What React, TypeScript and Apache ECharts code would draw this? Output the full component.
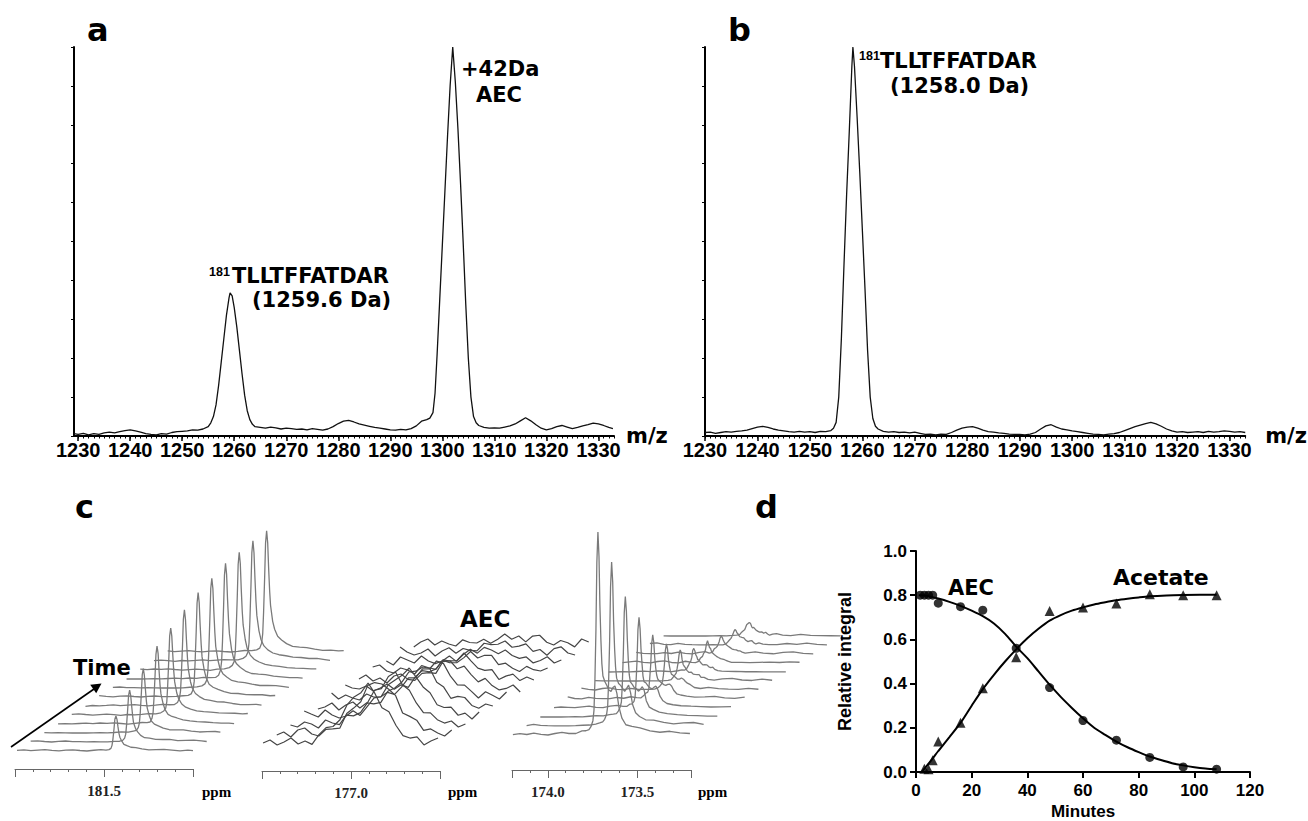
import { useEffect, useRef } from 'react';
import * as echarts from 'echarts';

// ---------------- Panel a / b : MALDI spectra ----------------
const MZ_TICK_LABELS = [1230, 1240, 1250, 1260, 1270, 1280, 1290, 1300, 1310, 1320, 1330];

const SPEC_A_MZ = [1229.2, 1230, 1231, 1232, 1233, 1234, 1235, 1236, 1237, 1238, 1239, 1240, 1241, 1242, 1243, 1244, 1245, 1246, 1247, 1248, 1249, 1250, 1251, 1252, 1253, 1254, 1255, 1255.5, 1256, 1256.5, 1257, 1257.5, 1258, 1258.5, 1259, 1259.2, 1259.6, 1260, 1260.5, 1261, 1261.5, 1262, 1262.5, 1263, 1263.5, 1264, 1265, 1266, 1267, 1268, 1269, 1270, 1271, 1272, 1273, 1274, 1275, 1276, 1277, 1278, 1279, 1280, 1281, 1282, 1283, 1284, 1285, 1286, 1287, 1288, 1289, 1290, 1291, 1292, 1293, 1294, 1295, 1296, 1297, 1297.6, 1298.2, 1298.6, 1299, 1299.5, 1300, 1300.5, 1301, 1301.5, 1302, 1302.5, 1303, 1303.5, 1304, 1304.5, 1305, 1305.5, 1306, 1306.5, 1307, 1308, 1309, 1310, 1311, 1312, 1313, 1314, 1315, 1316, 1317, 1318, 1319, 1320, 1321, 1322, 1323, 1324, 1325, 1326, 1327, 1328, 1329, 1330, 1331, 1332, 1332.8];
const SPEC_A_INT = [0.6, 0.4, 0.7, 0.3, 0.6, 0.4, 0.8, 1.0, 0.8, 1.1, 1.4, 1.6, 1.3, 1.0, 0.6, 0.4, 0.3, 0.6, 0.5, 0.9, 1.1, 1.2, 1.3, 1.6, 1.5, 1.8, 2.4, 3.4, 5, 8, 13, 19, 25, 31, 35.5, 36.8, 36, 33, 28, 22, 16, 10.5, 6.5, 4.2, 3, 2.4, 2.2, 2.0, 2.3, 2.1, 1.8, 2.0, 1.9, 1.7, 1.8, 1.6, 1.9, 1.7, 1.5, 1.8, 2.4, 3.2, 3.8, 4.0, 3.6, 3.1, 2.8, 2.5, 2.2, 2.0, 1.8, 1.6, 1.5, 1.7, 1.6, 1.9, 2.6, 3.8, 4.2, 4.6, 6, 11, 21, 35, 49, 63, 77, 90, 100, 91, 79, 65, 50, 34, 20, 10, 5, 3.4, 2.7, 2.2, 2.0, 2.1, 2.0, 2.3, 2.6, 3.1, 3.9, 4.7, 3.9, 2.9, 2.0, 1.6, 1.9, 2.4, 2.7, 2.3, 1.9, 2.2, 2.6, 2.9, 3.3, 3.1, 2.7, 2.2, 1.9];

const SPEC_B_MZ = [1230, 1231, 1232, 1233, 1234, 1235, 1236, 1237, 1238, 1239, 1240, 1241, 1242, 1243, 1244, 1245, 1246, 1247, 1248, 1249, 1250, 1251, 1252, 1253, 1254, 1254.5, 1255, 1255.5, 1256, 1256.5, 1257, 1257.5, 1258, 1258.2, 1258.5, 1259, 1259.5, 1260, 1260.5, 1261, 1261.5, 1262, 1262.5, 1263, 1264, 1265, 1266, 1267, 1268, 1269, 1270, 1271, 1272, 1273, 1274, 1275, 1276, 1277, 1278, 1279, 1280, 1281, 1282, 1283, 1284, 1285, 1286, 1287, 1288, 1289, 1290, 1291, 1292, 1293, 1294, 1295, 1296, 1297, 1298, 1299, 1300, 1301, 1302, 1303, 1304, 1305, 1306, 1307, 1308, 1309, 1310, 1311, 1312, 1313, 1314, 1315, 1316, 1317, 1318, 1319, 1320, 1321, 1322, 1323, 1324, 1325, 1326, 1327, 1328, 1329, 1330, 1331, 1332, 1333];
const SPEC_B_INT = [0.9, 1.0, 0.7, 0.9, 1.1, 1.0, 1.2, 1.3, 1.5, 1.9, 2.3, 2.5, 2.2, 1.8, 1.5, 1.3, 1.1, 1.0, 1.2, 1.0, 1.1, 0.9, 1.2, 1.1, 1.4, 2, 3.5, 10, 25, 44, 62, 78, 95, 100, 95, 82, 68, 53, 38, 22, 10, 4.5, 2.5, 1.8, 1.2, 1.0, 1.1, 0.9, 1.0, 0.8, 1.0, 0.7, 0.4, 0.5, 0.3, 0.5, 0.4, 0.9, 1.5, 2.0, 2.3, 2.4, 2.0, 1.5, 1.1, 1.0, 0.8, 0.7, 0.5, 0.4, 0.4, 0.3, 0.5, 0.9, 1.8, 2.6, 2.9, 2.3, 1.8, 1.6, 1.3, 1.1, 0.9, 0.7, 0.5, 0.4, 0.3, 0.5, 0.6, 0.9, 1.4, 1.9, 2.4, 2.8, 3.2, 3.5, 3.1, 2.5, 1.8, 1.3, 1.0, 1.1, 0.9, 1.0, 1.1, 0.9, 1.2, 1.0, 1.1, 1.3, 1.2, 1.0, 1.1, 0.9];

// ---------------- Panel c : 13C NMR stacked spectra ----------------
// 181.5 ppm region (front trace sampling, peak shape, baseline noise, per-time peak heights)
const C1_PPM = [181.989, 181.95, 181.911, 181.871, 181.832, 181.793, 181.753, 181.714, 181.675, 181.635, 181.596, 181.557, 181.517, 181.489, 181.472, 181.461, 181.455, 181.45, 181.444, 181.439, 181.433, 181.427, 181.422, 181.416, 181.411, 181.399, 181.388, 181.371, 181.349, 181.321, 181.287, 181.248, 181.208, 181.163, 181.118, 181.073, 181.029, 181.0];
const C1_SHAPE = [0, 0, 0, 0, 0, 0, 0, 0, 0, 0, 0, 0.004, 0.008, 0.015, 0.03, 0.07, 0.15, 0.33, 0.62, 0.9, 1, 0.9, 0.7, 0.5, 0.38, 0.25, 0.18, 0.125, 0.09, 0.065, 0.048, 0.037, 0.029, 0.021, 0.016, 0.011, 0.008, 0.006];
const C1_NOISE = [0.6, 1.1, 0.4, 0.9, 1.4, 0.7, 0.2, 0.8, 1.2, 0.5, 0.0, 0.6, 1.0, 0.4, 0.3, 0.2, 0.4, 0.1, 0.0, 0.2, 0.0, 0.1, 0.3, 0.2, 0.5, 0.8, 0.4, 1.0, 0.6, 1.2, 0.5, -0.2, 0.4, 0.9, 0.3, -0.3, 0.5, 0.2];
const C1_HEIGHTS = [35, 51, 64, 77, 87, 96, 104, 110, 115, 117, 120, 121];

// 177.0 ppm region (AEC)
const C2_PPM = [177.494, 177.455, 177.415, 177.376, 177.337, 177.297, 177.258, 177.219, 177.18, 177.14, 177.101, 177.062, 177.022, 176.983, 176.944, 176.904, 176.865, 176.826, 176.787, 176.747, 176.708, 176.669, 176.629, 176.59, 176.551, 176.511];
const C2_SHAPE = [0, 0, 0, 0, 0, 0, 0, 0.03, 0.08, 0.17, 0.3, 0.46, 0.64, 0.82, 0.97, 1, 0.86, 0.66, 0.46, 0.3, 0.17, 0.09, 0.04, 0.02, 0, 0];
const C2_NOISE = [0, 3, -2, 1, 5, -1, 2, -3, 4, 6, 0, -2, 3, 1, -3, 5, 2, -1, 6, 1, -2, 0, 4, -3, 2, 5, -1, 3, 0, -2, 4, 1];
const C2_HEIGHTS = [55, 52, 48, 44, 39, 33, 27, 21, 16, 12, 9, 6];

// 173.7 ppm region (acetate): a sharp line plus a broad base that dominates late traces
const C3_PPM = [174.195, 174.156, 174.117, 174.078, 174.038, 173.999, 173.96, 173.921, 173.882, 173.843, 173.809, 173.787, 173.77, 173.759, 173.748, 173.742, 173.737, 173.731, 173.726, 173.72, 173.714, 173.709, 173.703, 173.698, 173.692, 173.681, 173.67, 173.659, 173.647, 173.636, 173.625, 173.614, 173.603, 173.586, 173.564, 173.53, 173.485, 173.429, 173.374, 173.318, 173.262, 173.206];
const C3_SHAPE = [0, 0, 0, 0, 0, 0, 0, 0.002, 0.004, 0.006, 0.012, 0.018, 0.025, 0.04, 0.07, 0.12, 0.26, 0.52, 0.85, 1, 0.88, 0.64, 0.46, 0.35, 0.29, 0.26, 0.24, 0.22, 0.21, 0.23, 0.24, 0.2, 0.13, 0.08, 0.05, 0.035, 0.025, 0.018, 0.013, 0.01, 0.008, 0.006];
const C3_BROAD = [0, 0, 0, 0, 0, 0, 0, 0, 0, 0, 0, 0, 0.1, 0.3, 0.5, 0.6, 0.7, 0.8, 0.9, 1, 0.93, 0.86, 0.79, 0.72, 0.65, 0.52, 0.4, 0.3, 0.22, 0.15, 0.1, 0.06, 0.03, 0, 0, 0, 0, 0, 0, 0, 0, 0];
const C3_NOISE = [0.3, 1.4, 0.5, 1.9, 0.6, 0.0, 1.5, 2.2, 0.7, 0.3, 1.6, 0.6, 0.3, 0.2, 0.1, 0.2, 0.0, 0.1, 0.0, 0.0, 0.1, 0.0, 0.2, 0.3, 0.1, 0.5, 0.8, 0.4, 1.0, 0.7, 0.3, 1.1, 1.9, 0.6, 0.1, 1.5, 2.1, 0.5, 0.1, 1.7, 0.6, 0.3];
const C3_HEIGHTS = [203, 163, 120, 90, 60, 40, 22, 13, 9, 7, 5, 4];
const C3_BROAD_HEIGHTS = [0, 0, 0, 0, 4, 6, 8, 10, 11, 11, 10, 9];

// ---------------- Panel d : kinetics ----------------
const AEC_T = [1.5, 3, 4.5, 6, 8, 16, 24, 36, 48, 60, 72, 84, 96, 108];
const AEC_Y = [0.80, 0.80, 0.80, 0.80, 0.764, 0.748, 0.732, 0.56, 0.382, 0.233, 0.144, 0.066, 0.023, 0.013];
const ACE_T = [3, 4.5, 6, 8, 16, 24, 36, 48, 60, 72, 84, 96, 108];
const ACE_Y = [0.015, 0.012, 0.053, 0.138, 0.223, 0.379, 0.519, 0.729, 0.744, 0.762, 0.804, 0.80, 0.80];
const AEC_FIT_T = [1, 4, 8, 12, 16, 20, 24, 28, 32, 36, 40, 44, 48, 52, 56, 60, 64, 68, 72, 76, 80, 84, 88, 92, 96, 100, 104, 108];
const AEC_FIT_Y = [0.80, 0.797, 0.785, 0.77, 0.752, 0.73, 0.705, 0.672, 0.625, 0.567, 0.515, 0.455, 0.395, 0.34, 0.29, 0.243, 0.2, 0.168, 0.138, 0.112, 0.09, 0.07, 0.054, 0.04, 0.03, 0.022, 0.016, 0.012];
const ACE_FIT_T = [2, 4, 6, 8, 12, 16, 20, 24, 28, 32, 36, 40, 44, 48, 52, 56, 60, 64, 68, 72, 76, 80, 84, 90, 96, 102, 108];
const ACE_FIT_Y = [0, 0.03, 0.062, 0.095, 0.158, 0.222, 0.3, 0.375, 0.44, 0.5, 0.555, 0.605, 0.648, 0.685, 0.71, 0.73, 0.745, 0.758, 0.768, 0.777, 0.784, 0.79, 0.795, 0.799, 0.801, 0.802, 0.802];

const BLACK = '#000';
const F_SANS = 'DejaVu Sans, Verdana, sans-serif';
const F_ARIAL = 'Liberation Sans, Arial, Helvetica, sans-serif';
const F_SERIF = 'Liberation Serif, Times New Roman, serif';

function buildOption() {
  const grid: any[] = [];
  const xAxis: any[] = [];
  const yAxis: any[] = [];
  const series: any[] = [];
  const addGrid = (g: any) => { grid.push(g); return grid.length - 1; };
  const addX = (a: any) => { xAxis.push(a); return xAxis.length - 1; };
  const addY = (a: any) => { yAxis.push(a); return yAxis.length - 1; };

  // ---- mass spectra ----
  const minorMz: number[] = [];
  for (let m = 1230; m <= 1333; m += 1) minorMz.push(m);
  const msPanel = (left: number, min: number, width: number, nameGap: number, mz: number[], inten: number[]) => {
    const g = addGrid({ left, top: 47, width, height: 389 });
    const x = addX({
      type: 'value', gridIndex: g, position: 'bottom', min, max: 1333,
      axisLine: { show: true, onZero: false, lineStyle: { color: BLACK, width: 2 } },
      axisTick: { show: true, customValues: MZ_TICK_LABELS, length: 5, lineStyle: { color: BLACK, width: 1.5 } },
      axisLabel: {
        show: true, customValues: MZ_TICK_LABELS, margin: 4, color: BLACK, fontSize: 20, fontWeight: 'bold', fontFamily: F_ARIAL,
        formatter: (v: number) => String(Math.round(v)), hideOverlap: false, showMinLabel: true, showMaxLabel: true,
      },
      splitLine: { show: false },
      name: 'm/z', nameLocation: 'end', nameGap,
      nameTextStyle: { color: BLACK, fontSize: 21, fontWeight: 'bold', fontFamily: F_SANS },
    });
    addX({
      type: 'value', gridIndex: g, position: 'bottom', min, max: 1333,
      axisLine: { show: false },
      axisTick: { show: true, customValues: minorMz, length: 2.5, lineStyle: { color: BLACK, width: 1 } },
      axisLabel: { show: false }, splitLine: { show: false },
    });
    const y = addY({
      type: 'value', gridIndex: g, min: 0, max: 100, interval: 10,
      axisLine: { show: true, onZero: false, lineStyle: { color: BLACK, width: 2 } },
      axisTick: { show: true, length: 3, lineStyle: { color: BLACK } },
      axisLabel: { show: false }, splitLine: { show: false },
    });
    series.push({
      type: 'line', xAxisIndex: x, yAxisIndex: y, symbol: 'none', silent: true,
      lineStyle: { color: '#111', width: 1.3 },
      data: mz.map((m, i) => [m, inten[i]]),
    });
  };
  msPanel(74, 1229.2, 540, 12, SPEC_A_MZ, SPEC_A_INT);
  msPanel(705, 1230, 542, 20, SPEC_B_MZ, SPEC_B_INT);

  // ---- stacked NMR ----
  const DX = 13.7;
  const DY = 9;
  const waterfall = (cfg: any) => {
    const n = cfg.noise.length;
    for (let i = cfg.heights.length - 1; i >= 0; i--) {
      const bottomY = cfg.baseY + 7 - i * DY;
      const g = addGrid({ left: cfg.left + i * DX, top: bottomY - 222, width: cfg.width, height: 222 });
      const x = addX({ type: 'value', gridIndex: g, min: cfg.min, max: cfg.max, inverse: true, show: false });
      const y = addY({ type: 'value', gridIndex: g, min: -7, max: 215, show: false });
      const broadH = cfg.broadHeights ? cfg.broadHeights[i] : 0;
      series.push({
        type: 'line', xAxisIndex: x, yAxisIndex: y, symbol: 'none', silent: true,
        lineStyle: { color: cfg.color, width: cfg.lw },
        areaStyle: { color: '#fff', opacity: 1, origin: 'start' },
        data: cfg.ppm.map((p: number, j: number) => [
          p,
          cfg.heights[i] * cfg.shape[j] + (cfg.broad ? broadH * cfg.broad[j] : 0) + cfg.noise[(j + i * cfg.shift) % n],
        ]),
      });
    }
    const rg = addGrid({ left: cfg.left, top: cfg.rulerY - 10, width: cfg.width, height: 10 });
    addY({ type: 'value', gridIndex: rg, show: false });
    addX({
      type: 'value', gridIndex: rg, position: 'bottom', min: cfg.min, max: cfg.max, inverse: true, interval: 0.1,
      axisLine: { show: true, onZero: false, lineStyle: { color: '#666', width: 1 } },
      axisTick: { show: true, length: 3, lineStyle: { color: '#666' } },
      axisLabel: { show: false }, splitLine: { show: false },
    });
    addX({
      type: 'value', gridIndex: rg, position: 'bottom', min: cfg.min, max: cfg.max, inverse: true,
      axisLine: { show: false },
      axisTick: { show: true, customValues: cfg.major, length: 8, lineStyle: { color: '#666' } },
      axisLabel: {
        show: true, customValues: cfg.labels, margin: 14, formatter: (v: number) => v.toFixed(1),
        fontFamily: F_SERIF, fontWeight: 'bold', fontSize: 15, color: '#222', hideOverlap: false,
      },
      splitLine: { show: false },
    });
  };
  waterfall({ ppm: C1_PPM, shape: C1_SHAPE, noise: C1_NOISE, heights: C1_HEIGHTS, shift: 7, left: 15, width: 178, baseY: 751, min: 181.0, max: 182.0, color: '#7a7a7a', lw: 1.3, rulerY: 769, major: [182.0, 181.5, 181.0], labels: [181.5] });
  waterfall({ ppm: C2_PPM, shape: C2_SHAPE, noise: C2_NOISE, heights: C2_HEIGHTS, shift: 5, left: 262, width: 178, baseY: 743, min: 176.5, max: 177.5, color: '#454545', lw: 1.2, rulerY: 771, major: [177.5, 177.0, 176.5], labels: [177.0] });
  waterfall({ ppm: C3_PPM, shape: C3_SHAPE, broad: C3_BROAD, broadHeights: C3_BROAD_HEIGHTS, noise: C3_NOISE, heights: C3_HEIGHTS, shift: 9, left: 512, width: 179, baseY: 735, min: 173.2, max: 174.2, color: '#7a7a7a', lw: 1.3, rulerY: 770, major: [174.2, 174.0, 173.5, 173.2], labels: [174.0, 173.5] });

  // ---- kinetics ----
  const gd = addGrid({ left: 916, top: 551, width: 334, height: 221 });
  const xd = addX({
    type: 'value', gridIndex: gd, position: 'bottom', min: 0, max: 120, interval: 20,
    axisLine: { show: true, onZero: false, lineStyle: { color: BLACK, width: 2 } },
    axisTick: { show: true, length: 6, lineStyle: { color: BLACK, width: 2 } },
    axisLabel: { margin: 10, color: BLACK, fontSize: 17, fontWeight: 'bold', fontFamily: F_ARIAL },
    splitLine: { show: false },
    name: 'Minutes', nameLocation: 'middle', nameGap: 31,
    nameTextStyle: { color: BLACK, fontSize: 17, fontWeight: 'bold', fontFamily: F_ARIAL },
  });
  const yd = addY({
    type: 'value', gridIndex: gd, min: 0, max: 1, interval: 0.2,
    axisLine: { show: true, onZero: false, lineStyle: { color: BLACK, width: 2 } },
    axisTick: { show: true, length: 6, lineStyle: { color: BLACK, width: 2 } },
    axisLabel: { margin: 9, color: BLACK, fontSize: 17, fontWeight: 'bold', fontFamily: F_ARIAL, formatter: (v: number) => v.toFixed(1) },
    splitLine: { show: false },
    name: 'Relative integral', nameLocation: 'middle', nameGap: 62,
    nameTextStyle: { color: BLACK, fontSize: 18, fontWeight: 'bold', fontFamily: F_ARIAL },
  });
  series.push({
    type: 'line', xAxisIndex: xd, yAxisIndex: yd, symbol: 'none', smooth: 0.3, silent: true,
    lineStyle: { color: BLACK, width: 2 }, data: ACE_FIT_T.map((t, i) => [t, ACE_FIT_Y[i]]),
  });
  series.push({
    type: 'line', xAxisIndex: xd, yAxisIndex: yd, symbol: 'none', smooth: 0.3, silent: true,
    lineStyle: { color: BLACK, width: 2 }, data: AEC_FIT_T.map((t, i) => [t, AEC_FIT_Y[i]]),
  });
  series.push({
    type: 'scatter', xAxisIndex: xd, yAxisIndex: yd, symbol: 'circle', symbolSize: 9, silent: true,
    itemStyle: { color: BLACK }, data: AEC_T.map((t, i) => [t, AEC_Y[i]]),
  });
  series.push({
    type: 'scatter', xAxisIndex: xd, yAxisIndex: yd, symbol: 'triangle', symbolSize: 10, silent: true,
    itemStyle: { color: BLACK }, data: ACE_T.map((t, i) => [t, ACE_Y[i]]),
  });

  const txt = (text: string, x: number, y: number, size: number, family: string) => ({
    type: 'text', x, y, z: 100, silent: true,
    style: {
      text, fill: BLACK, fontSize: size, fontWeight: 'bold', fontFamily: family,
      align: 'left', verticalAlign: 'middle', textAlign: 'left', textVerticalAlign: 'middle',
    },
  });

  const graphic = [
    txt('a', 87, 29.5, 32, F_SANS),
    txt('b', 728, 29.5, 32, F_SANS),
    txt('c', 75, 506.5, 32, F_SANS),
    txt('d', 755, 506.5, 32, F_SANS),
    txt('181', 209, 272, 12.5, F_ARIAL),
    txt('TLLTFFATDAR', 232, 275.5, 21, F_SANS),
    txt('(1259.6 Da)', 252, 300, 21, F_SANS),
    txt('+42Da', 461, 68.5, 21, F_SANS),
    txt('AEC', 476, 95, 21, F_SANS),
    txt('181', 859, 56, 12.5, F_ARIAL),
    txt('TLLTFFATDAR', 880, 60.5, 21, F_SANS),
    txt('(1258.0 Da)', 890, 85.5, 21, F_SANS),
    txt('Time', 73, 668, 21, F_SANS),
    txt('AEC', 460, 618.5, 23, F_SANS),
    txt('AEC', 948, 587.5, 21, F_SANS),
    txt('Acetate', 1113, 577.5, 22, F_SANS),
    txt('ppm', 202, 792, 15, F_SERIF),
    txt('ppm', 448, 792, 15, F_SERIF),
    txt('ppm', 698, 792, 15, F_SERIF),
    {
      type: 'line', z: 100, silent: true,
      shape: { x1: 11, y1: 747, x2: 94, y2: 689 },
      style: { stroke: BLACK, lineWidth: 1.6 },
    },
    {
      type: 'polygon', z: 100, silent: true,
      shape: { points: [[101.5, 683.5], [90.2, 684.8], [96.2, 693.2]] },
      style: { fill: BLACK },
    },
  ];

  return {
    animation: false,
    backgroundColor: '#fff',
    grid, xAxis, yAxis, series, graphic,
  };
}

export default function App() {
  const ref = useRef<HTMLDivElement>(null);
  useEffect(() => {
    if (!ref.current) return;
    const chart = echarts.init(ref.current, null, { renderer: 'svg' });
    chart.setOption(buildOption() as any);
    return () => chart.dispose();
  }, []);
  return <div ref={ref} style={{ position: 'absolute', left: 0, top: 0, width: 1308, height: 821, background: '#fff' }} />;
}
